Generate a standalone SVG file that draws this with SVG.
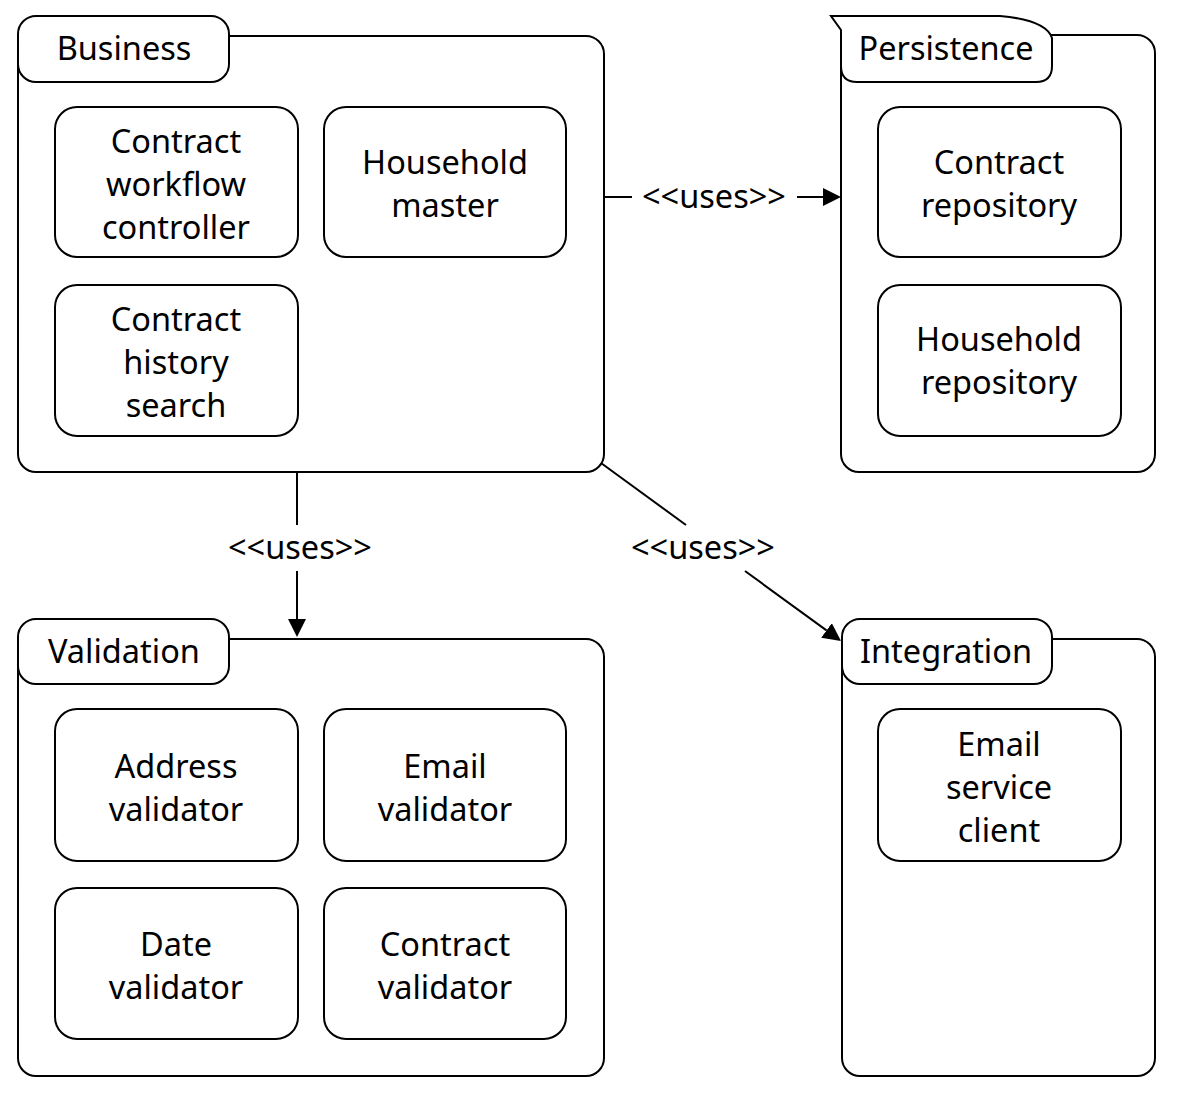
<svg xmlns="http://www.w3.org/2000/svg" width="1177" height="1096" viewBox="0 0 1177 1096">
<style>
  .pkg { fill: #fff; stroke: #000; stroke-width: 2; }
  .box { fill: #fff; stroke: #000; stroke-width: 2; }
  .lbl { font-family: "Noto Sans", "Liberation Sans", sans-serif; font-size: 32.5px; fill: #000; text-anchor: middle; dominant-baseline: central; }
  .con { fill: none; stroke: #000; stroke-width: 2; }
</style>
<defs>
  <marker id="arr" markerUnits="userSpaceOnUse" markerWidth="20" markerHeight="20" refX="0" refY="9" orient="auto" viewBox="0 0 20 20">
    <path d="M0,0 L18,9 L0,18 Z" fill="#000"/>
  </marker>
</defs>
<rect width="1177" height="1096" fill="#fff"/>

<g id="business">
  <rect class="pkg" x="18" y="36" width="586" height="436" rx="18"/>
  <rect class="pkg" x="18" y="16" width="211" height="66" rx="18"/>
  <text class="lbl" x="124" y="47">Business</text>
</g>
<g id="contract-workflow-controller">
  <rect class="box" x="55" y="107" width="243" height="150" rx="22"/>
  <text class="lbl" x="176" y="140">Contract</text>
  <text class="lbl" x="176" y="183">workflow</text>
  <text class="lbl" x="176" y="226">controller</text>
</g>
<g id="household-master">
  <rect class="box" x="324" y="107" width="242" height="150" rx="22"/>
  <text class="lbl" x="445" y="161">Household</text>
  <text class="lbl" x="445" y="204">master</text>
</g>
<g id="contract-history-search">
  <rect class="box" x="55" y="285" width="243" height="151" rx="22"/>
  <text class="lbl" x="176" y="318">Contract</text>
  <text class="lbl" x="176" y="361">history</text>
  <text class="lbl" x="176" y="404">search</text>
</g>

<g id="persistence">
  <rect class="pkg" x="841" y="35" width="314" height="437" rx="18"/>
  <path class="pkg" d="M831,16 L1000,16 Q1046,20 1052,38 L1052,66 Q1052,82 1036,82 L857,82 Q841,82 841,66 L841,30 Z"/>
  <text class="lbl" x="946" y="47">Persistence</text>
</g>
<g id="contract-repository">
  <rect class="box" x="878" y="107" width="243" height="150" rx="22"/>
  <text class="lbl" x="999" y="161">Contract</text>
  <text class="lbl" x="999" y="204">repository</text>
</g>
<g id="household-repository">
  <rect class="box" x="878" y="285" width="243" height="151" rx="22"/>
  <text class="lbl" x="999" y="338">Household</text>
  <text class="lbl" x="999" y="381">repository</text>
</g>

<g id="validation">
  <rect class="pkg" x="18" y="639" width="586" height="437" rx="18"/>
  <rect class="pkg" x="18" y="619" width="211" height="65" rx="18"/>
  <text class="lbl" x="124" y="650">Validation</text>
</g>
<g id="address-validator">
  <rect class="box" x="55" y="709" width="243" height="152" rx="22"/>
  <text class="lbl" x="176" y="765">Address</text>
  <text class="lbl" x="176" y="808">validator</text>
</g>
<g id="email-validator">
  <rect class="box" x="324" y="709" width="242" height="152" rx="22"/>
  <text class="lbl" x="445" y="765">Email</text>
  <text class="lbl" x="445" y="808">validator</text>
</g>
<g id="date-validator">
  <rect class="box" x="55" y="888" width="243" height="151" rx="22"/>
  <text class="lbl" x="176" y="943">Date</text>
  <text class="lbl" x="176" y="986">validator</text>
</g>
<g id="contract-validator">
  <rect class="box" x="324" y="888" width="242" height="151" rx="22"/>
  <text class="lbl" x="445" y="943">Contract</text>
  <text class="lbl" x="445" y="986">validator</text>
</g>

<g id="integration">
  <rect class="pkg" x="842" y="639" width="313" height="437" rx="18"/>
  <rect class="pkg" x="842" y="619" width="210" height="65" rx="18"/>
  <text class="lbl" x="946" y="650">Integration</text>
</g>
<g id="email-service-client">
  <rect class="box" x="878" y="709" width="243" height="152" rx="22"/>
  <text class="lbl" x="999" y="743">Email</text>
  <text class="lbl" x="999" y="786">service</text>
  <text class="lbl" x="999" y="829">client</text>
</g>

<g id="connectors">
  <line class="con" x1="605" y1="197" x2="632" y2="197"/>
  <line class="con" x1="797" y1="197" x2="823" y2="197" marker-end="url(#arr)"/>
  <text class="lbl" x="714" y="195">&lt;&lt;uses&gt;&gt;</text>

  <line class="con" x1="297" y1="473" x2="297" y2="525"/>
  <line class="con" x1="297" y1="571" x2="297" y2="619" marker-end="url(#arr)"/>
  <text class="lbl" x="300" y="546">&lt;&lt;uses&gt;&gt;</text>

  <line class="con" x1="601" y1="463" x2="686" y2="525"/>
  <line class="con" x1="745" y1="571" x2="826.5" y2="630.4" marker-end="url(#arr)"/>
  <text class="lbl" x="703" y="546">&lt;&lt;uses&gt;&gt;</text>
</g>
</svg>
